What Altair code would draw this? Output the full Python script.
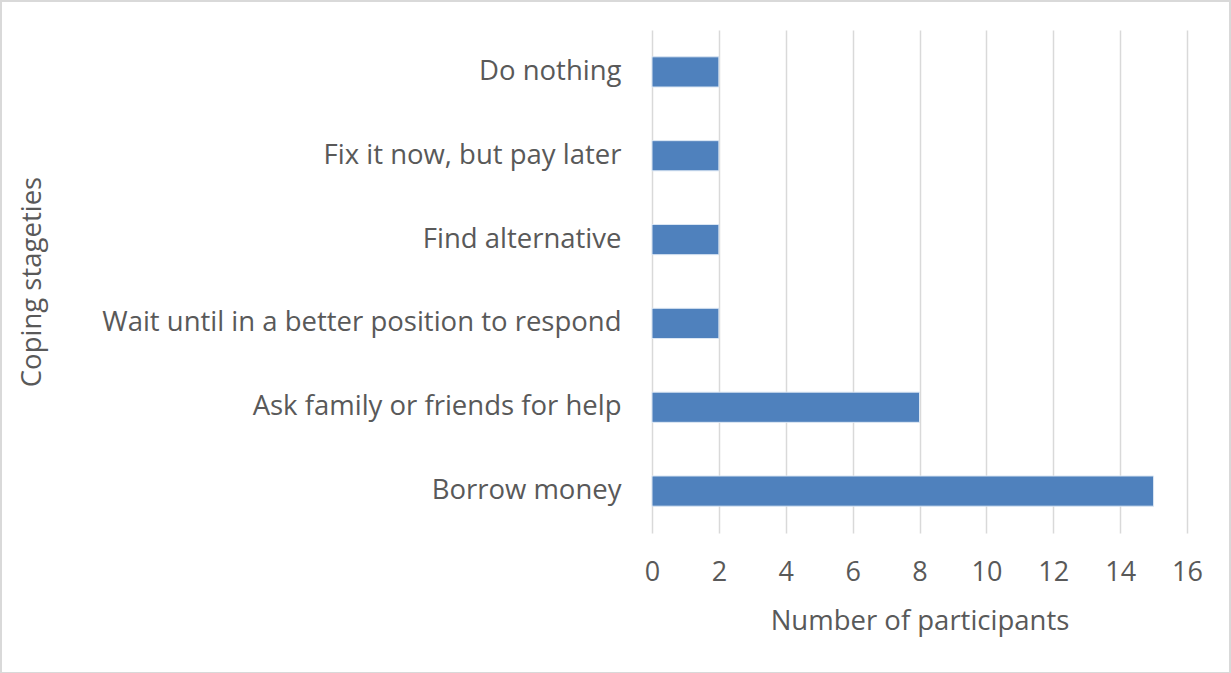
import altair as alt
import pandas as pd

categories = [
    "Do nothing\u00a0",
    "Fix it now, but pay later",
    "Find alternative",
    "Wait until in a better position to respond\u00a0",
    "Ask family or friends for help",
    "Borrow money",
]
values = [2, 2, 2, 2, 8, 15]
x_ticks = [0, 2, 4, 6, 8, 10, 12, 14, 16]

df = pd.DataFrame({"strategy": categories, "participants": values})

FONT = "Open Sans"
TXT = "#595959"
W, H = 535, 503

bars = alt.Chart(df).mark_bar(color="#4F81BD", stroke="#dbe6f3", strokeWidth=1).encode(
    x=alt.X(
        "participants:Q",
        scale=alt.Scale(domain=[0, 16], nice=False),
        axis=alt.Axis(
            values=x_ticks,
            title="Number of participants",
            grid=True,
            gridColor="#d9d9d9",
            gridWidth=1.5,
            domain=False,
            ticks=False,
            labelFlush=False,
            labelPadding=26,
            labelFontSize=27,
            labelColor=TXT,
            labelFont=FONT,
            titleFont=FONT,
            titleFontSize=27.5,
            titleFontWeight="normal",
            titleColor=TXT,
            titleBaseline="middle",
            titleY=88,
        ),
    ),
    y=alt.Y(
        "strategy:N",
        sort=categories,
        scale=alt.Scale(paddingInner=0.64, paddingOuter=0.32),
        axis=alt.Axis(
            title="Coping stageties",
            domain=False,
            ticks=False,
            labelPadding=31,
            labelFontSize=27.5,
            labelColor=TXT,
            labelFont=FONT,
            labelLimit=800,
            titleFont=FONT,
            titleFontSize=27.5,
            titleFontWeight="normal",
            titleColor=TXT,
            titleX=-620,
            titleY=H / 2,
            titleBaseline="middle",
            titleAlign="center",
            titleAngle=-90,
        ),
    ),
)

border = alt.Chart(df).mark_rect(fill=None, stroke="#d9d9d9", strokeWidth=2).encode(
    x=alt.value(-651), x2=alt.value(W + 43), y=alt.value(-29), y2=alt.value(H + 140)
)

chart = (
    alt.layer(border, bars)
    .properties(
        width=W,
        height=H,
        autosize=alt.AutoSizeParams(type="none"),
        padding={"left": 652, "top": 30, "right": 44, "bottom": 140},
        background="white",
    )
    .configure_view(stroke=None)
)

chart.save("out.html", embed_options={"renderer": "svg", "actions": False})
